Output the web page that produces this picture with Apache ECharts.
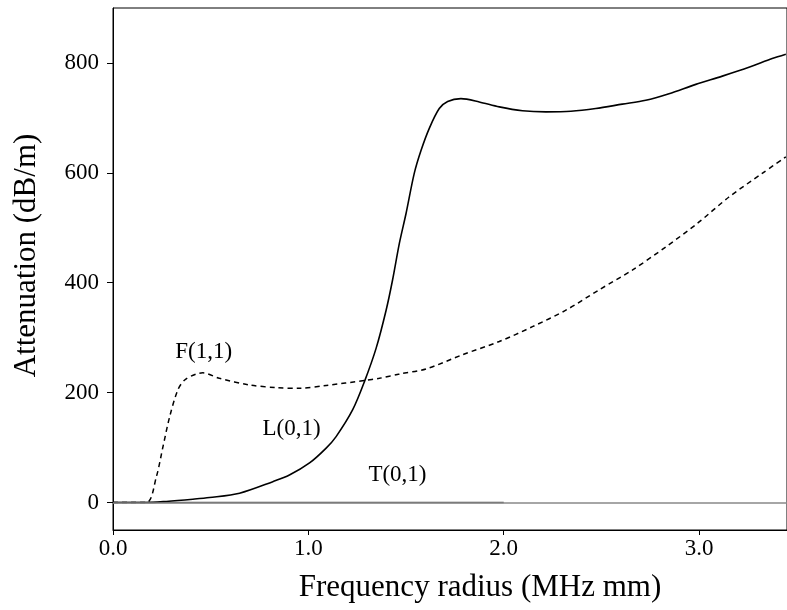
<!DOCTYPE html>
<html>
<head>
<meta charset="utf-8">
<script src="https://cdn.jsdelivr.net/npm/echarts@6/dist/echarts.min.js"></script>
<style>
html, body { margin: 0; padding: 0; background: #fff; }
#chart { width: 787px; height: 610px; }
</style>
</head>
<body>
<div id="chart"></div>
<script>
// L(0,1) solid curve
var lX = [0, 0.171, 0.273, 0.409, 0.494, 0.648, 0.818, 0.903, 1.006, 1.091, 1.142, 1.227, 1.287, 1.347, 1.398, 1.431, 1.466, 1.5, 1.542, 1.577, 1.619, 1.67, 1.713, 1.781, 1.875, 1.977, 2.096, 2.216, 2.344, 2.471, 2.607, 2.727, 2.846, 2.983, 3.119, 3.255, 3.374, 3.444];
var lY = [0, 0, 2, 6, 9, 17, 38, 50, 72, 99, 120, 169, 220, 281, 350, 405, 472, 526, 599, 641, 681, 717, 730, 735, 729, 720, 713, 711, 712, 717, 725, 732, 744, 761, 776, 792, 808, 816];
// F(1,1) dashed curve
var fX = [0, 0.171, 0.222, 0.256, 0.29, 0.332, 0.367, 0.426, 0.46, 0.545, 0.699, 0.835, 0.955, 1.091, 1.287, 1.363, 1.466, 1.602, 1.789, 1.977, 2.147, 2.318, 2.488, 2.658, 2.829, 2.991, 3.153, 3.323, 3.444];
var fY = [0, 0, 47, 102, 156, 205, 223, 234, 236, 226, 214, 209, 208, 213, 222, 226, 234, 243, 269, 293, 320, 350, 387, 423, 465, 508, 556, 599, 629];
// T(0,1) stays at zero
var tX = [0, 2.0];
var tY = [0, 0];

var labelNames = ['F(1,1)', 'L(0,1)', 'T(0,1)'];
var labelX = [0.464, 0.914, 1.456];
var labelY = [274, 134, 50];

var yTicks = [0, 200, 400, 600, 800];

function zip(xs, ys) {
  var out = [];
  for (var i = 0; i < xs.length; i++) out.push([xs[i], ys[i]]);
  return out;
}

var font = '"Liberation Serif", "Times New Roman", serif';
var chart = echarts.init(document.getElementById('chart'));

var labelData = [];
for (var i = 0; i < labelNames.length; i++) {
  labelData.push({ name: labelNames[i], value: [labelX[i], labelY[i]] });
}

chart.setOption({
  backgroundColor: '#fff',
  animation: false,
  grid: {
    left: 113, right: 0, top: 8, bottom: 80,
    show: true, borderColor: '#000', borderWidth: 1
  },
  xAxis: {
    type: 'value',
    min: 0, max: 3.45, interval: 1,
    name: 'Frequency radius (MHz mm)',
    nameLocation: 'middle',
    nameGap: 42,
    nameTextStyle: { fontFamily: font, fontSize: 31, color: '#000', padding: [0, 0, 0, 60] },
    axisLine: { onZero: false, lineStyle: { color: '#000', width: 1 } },
    axisTick: { show: true, length: 5, lineStyle: { color: '#000' } },
    axisLabel: {
      fontFamily: font, fontSize: 23, color: '#000', margin: 7,
      showMaxLabel: false,
      formatter: function (v) { return v.toFixed(1); }
    },
    splitLine: { show: false }
  },
  yAxis: {
    type: 'value',
    min: -50, max: 900,
    name: 'Attenuation (dB/m)',
    nameLocation: 'middle',
    nameRotate: 90,
    nameGap: 71,
    nameTextStyle: { fontFamily: font, fontSize: 31, color: '#000', padding: [0, 0, 0, 27] },
    axisLine: { lineStyle: { color: '#000', width: 1 } },
    axisTick: { show: true, length: 6, customValues: yTicks, lineStyle: { color: '#000' } },
    axisLabel: { fontFamily: font, fontSize: 23, color: '#000', margin: 14, customValues: yTicks },
    splitLine: { show: false }
  },
  series: [
    {
      name: 'T(0,1)',
      type: 'line',
      data: zip(tX, tY),
      symbol: 'none',
      lineStyle: { color: '#555', width: 1.5 },
      markLine: {
        silent: true, symbol: 'none', label: { show: false },
        lineStyle: { color: '#888', width: 1.5, type: 'solid' },
        data: [{ yAxis: 0 }]
      },
      z: 1
    },
    {
      name: 'F(1,1)',
      type: 'line',
      data: zip(fX, fY),
      symbol: 'none',
      smooth: 0.3,
      lineStyle: { color: '#000', width: 1.5, type: [5, 4] },
      z: 3
    },
    {
      name: 'L(0,1)',
      type: 'line',
      data: zip(lX, lY),
      symbol: 'none',
      smooth: 0.3,
      lineStyle: { color: '#000', width: 1.6 },
      z: 3
    },
    {
      name: 'labels',
      type: 'scatter',
      data: labelData,
      symbolSize: 0,
      silent: true,
      itemStyle: { opacity: 1 },
      label: {
        show: true, position: 'inside',
        formatter: function (p) { return p.name; },
        fontFamily: font, fontSize: 23, color: '#000', opacity: 1
      },
      z: 4
    }
  ]
});
</script>
</body>
</html>
